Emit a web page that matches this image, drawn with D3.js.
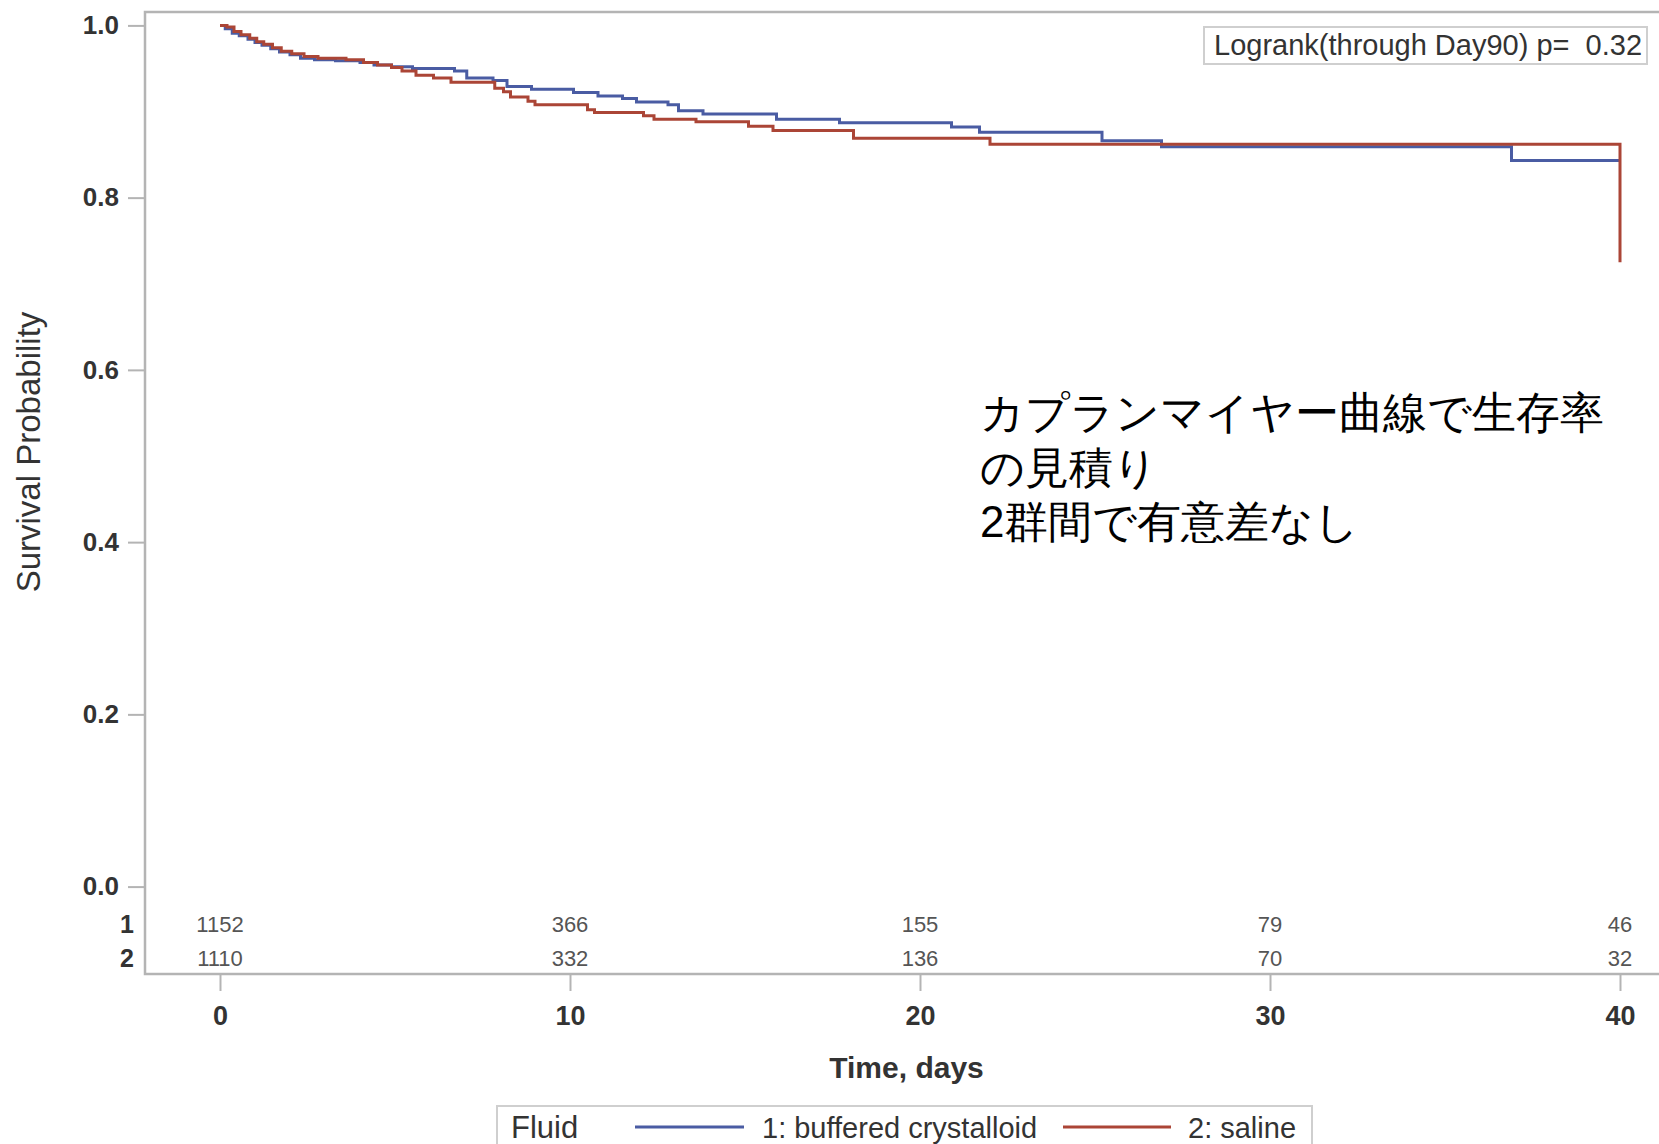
<!DOCTYPE html>
<html>
<head>
<meta charset="utf-8">
<script src="https://cdn.jsdelivr.net/npm/d3@7"></script>
<style>
  html, body { margin: 0; padding: 0; background: #fff; }
  svg { display: block; }
  text { font-family: "Liberation Sans", Arial, sans-serif; }
</style>
</head>
<body>
<svg id="chart" width="1659" height="1144"></svg>
<script>
// Kaplan-Meier step data (time in days, survival probability after each step)
const bufferedTime = [0, 0.15, 0.35, 0.55, 0.8, 1.0, 1.2, 1.45, 1.7, 2.0, 2.3, 2.7, 3.3, 4.0, 4.4, 4.9, 5.5, 6.7, 7.05, 7.8, 8.2, 8.9, 10.1, 10.8, 11.5, 11.9, 12.8, 13.1, 13.8, 15.9, 17.7, 20.9, 21.7, 25.2, 26.9, 36.9, 40];
const bufferedSurv = [1.0, 0.996, 0.991, 0.988, 0.984, 0.980, 0.977, 0.973, 0.969, 0.966, 0.962, 0.960, 0.959, 0.957, 0.954, 0.952, 0.950, 0.947, 0.939, 0.936, 0.929, 0.926, 0.922, 0.918, 0.915, 0.911, 0.908, 0.901, 0.897, 0.891, 0.887, 0.882, 0.876, 0.866, 0.859, 0.843, 0.843];

const salineTime = [0, 0.2, 0.4, 0.6, 0.85, 1.05, 1.25, 1.5, 1.75, 2.05, 2.4, 2.8, 3.6, 4.1, 4.5, 4.9, 5.2, 5.6, 6.1, 6.6, 7.85, 8.1, 8.3, 8.8, 9.0, 10.5, 10.7, 12.1, 12.4, 13.6, 15.1, 15.8, 18.1, 22.0, 40];
const salineSurv = [1.0, 0.998, 0.993, 0.989, 0.985, 0.981, 0.978, 0.974, 0.970, 0.967, 0.964, 0.962, 0.960, 0.957, 0.954, 0.951, 0.947, 0.942, 0.939, 0.934, 0.927, 0.923, 0.917, 0.912, 0.908, 0.902, 0.899, 0.895, 0.891, 0.888, 0.883, 0.878, 0.869, 0.862, 0.725];

// Number at risk at each time tick
const atRiskTimes = [0, 10, 20, 30, 40];
const atRiskBuffered = [1152, 366, 155, 79, 46];
const atRiskSaline = [1110, 332, 136, 70, 32];
const atRiskRowLabels = ["1", "2"];

const timeTicks = [0, 10, 20, 30, 40];
const survTicks = [0, 0.2, 0.4, 0.6, 0.8, 1.0];

const groupNames = ["1: buffered crystalloid", "2: saline"];
const groupColors = ["#4a5ca3", "#ab4536"];
const legendTitle = "Fluid";
const pValueText = "Logrank(through Day90) p=  0.32";
const noteLines = ["カプランマイヤー曲線で生存率", "の見積り", "2群間で有意差なし"];

const svg = d3.select("#chart");

// Frame of the plot area (runs past the right edge)
const frame = { left: 145, top: 12, right: 1668, bottom: 974 };

const x = d3.scaleLinear().domain([0, 40]).range([220, 1620]);
const y = d3.scaleLinear().domain([0, 1]).range([886.6, 25.4]);

const axisGray = "#b4b4b4";

svg.append("rect")
  .attr("x", frame.left).attr("y", frame.top)
  .attr("width", frame.right - frame.left).attr("height", frame.bottom - frame.top)
  .attr("fill", "none").attr("stroke", axisGray).attr("stroke-width", 2.5);

// Y axis
const yAxis = d3.axisLeft(y).tickValues(survTicks).tickFormat(d3.format(".1f")).tickSize(16).tickPadding(9);
const yg = svg.append("g").attr("transform", `translate(${frame.left - 1},0)`).call(yAxis);
yg.select(".domain").remove();
yg.selectAll(".tick line").attr("stroke", axisGray).attr("stroke-width", 2);
yg.selectAll(".tick text")
  .attr("fill", "#333").attr("font-size", 26).attr("font-weight", "bold")
  .attr("font-family", "Liberation Sans, Arial, sans-serif");

// X axis
const xAxis = d3.axisBottom(x).tickValues(timeTicks).tickFormat(d3.format("d")).tickSize(16).tickPadding(15);
const xg = svg.append("g").attr("transform", `translate(0,${frame.bottom + 1})`).call(xAxis);
xg.select(".domain").remove();
xg.selectAll(".tick line").attr("stroke", axisGray).attr("stroke-width", 2);
xg.selectAll(".tick text")
  .attr("fill", "#333").attr("font-size", 27).attr("font-weight", "bold")
  .attr("font-family", "Liberation Sans, Arial, sans-serif");

// Axis titles
svg.append("text")
  .attr("x", (frame.left + frame.right) / 2).attr("y", 1078)
  .attr("text-anchor", "middle").attr("font-size", 30).attr("font-weight", "bold")
  .attr("fill", "#333").text("Time, days");

svg.append("text")
  .attr("transform", "translate(40,452) rotate(-90)")
  .attr("text-anchor", "middle").attr("font-size", 33)
  .attr("fill", "#333").text("Survival Probability");

// Survival curves
const line = d3.line().curve(d3.curveStepAfter).x(d => x(d[0])).y(d => y(d[1]));
const series = [
  d3.zip(bufferedTime, bufferedSurv),
  d3.zip(salineTime, salineSurv)
];
svg.append("g").selectAll("path").data(series).join("path")
  .attr("d", line)
  .attr("fill", "none")
  .attr("stroke", (d, i) => groupColors[i])
  .attr("stroke-width", 3);

// Number-at-risk table
const riskRows = [atRiskBuffered, atRiskSaline];
const rowY = [924, 958];
riskRows.forEach((row, r) => {
  svg.append("text")
    .attr("x", 134).attr("y", rowY[r]).attr("dy", "0.36em")
    .attr("text-anchor", "end").attr("font-size", 25).attr("font-weight", "bold")
    .attr("fill", "#333").text(atRiskRowLabels[r]);
  svg.append("g").selectAll("text").data(row).join("text")
    .attr("x", (d, i) => x(atRiskTimes[i])).attr("y", rowY[r]).attr("dy", "0.36em")
    .attr("text-anchor", "middle").attr("font-size", 22)
    .attr("fill", "#555").text(d => d);
});

// Log-rank p-value box
svg.append("rect")
  .attr("x", 1204).attr("y", 27).attr("width", 443).attr("height", 37)
  .attr("fill", "#fff").attr("stroke", "#cfcfcf").attr("stroke-width", 2);
svg.append("text")
  .attr("x", 1214).attr("y", 55).attr("font-size", 29).attr("fill", "#333")
  .attr("xml:space", "preserve").style("white-space", "pre")
  .text(pValueText);

// Annotation in Japanese
svg.append("g").selectAll("text").data(noteLines).join("text")
  .attr("x", 980).attr("y", (d, i) => 428 + i * 54.5)
  .attr("font-family", "Noto Sans CJK JP, sans-serif")
  .attr("font-weight", 500)
  .attr("font-size", 44).attr("fill", "#000").text(d => d);

// Legend
const lg = svg.append("g");
lg.append("rect")
  .attr("x", 497).attr("y", 1106).attr("width", 815).attr("height", 60)
  .attr("fill", "#fff").attr("stroke", "#cfcfcf").attr("stroke-width", 2);
lg.append("text").attr("x", 511).attr("y", 1138).attr("font-size", 31).attr("fill", "#333").text(legendTitle);
const legendItems = [
  { x1: 635, x2: 744, tx: 762 },
  { x1: 1063, x2: 1171, tx: 1188 }
];
legendItems.forEach((it, i) => {
  lg.append("line").attr("x1", it.x1).attr("x2", it.x2).attr("y1", 1127).attr("y2", 1127)
    .attr("stroke", groupColors[i]).attr("stroke-width", 3);
  lg.append("text").attr("x", it.tx).attr("y", 1138).attr("font-size", 29).attr("fill", "#333").text(groupNames[i]);
});
</script>
</body>
</html>
